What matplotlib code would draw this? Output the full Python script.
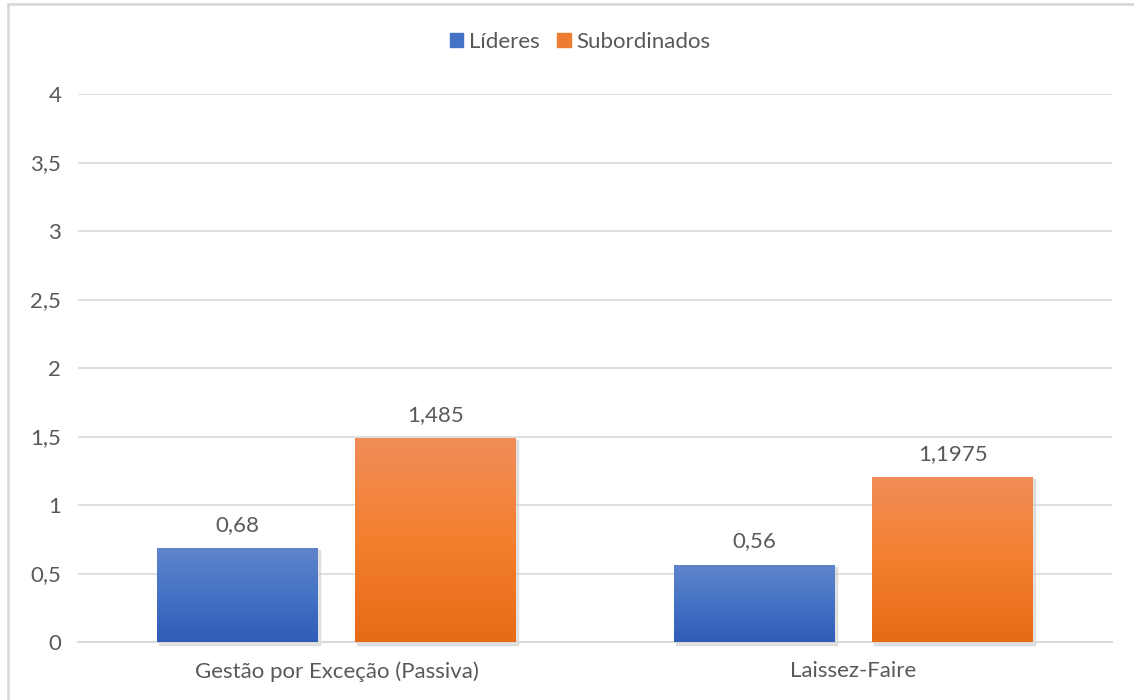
import matplotlib.pyplot as plt
import matplotlib.patches as mpatches
import numpy as np
from matplotlib.colors import LinearSegmentedColormap

# dados
categorias = ['Gestão por Exceção (Passiva)', 'Laissez-Faire']
lideres = [0.68, 0.56]
subordinados = [1.485, 1.1975]
series_nomes = ['Líderes', 'Subordinados']
yticks = [0, 0.5, 1, 1.5, 2, 2.5, 3, 3.5, 4]

plt.rcParams['font.family'] = ['Lato', 'DejaVu Sans']
cor_texto = '#595959'
fs = 16

fig = plt.figure(figsize=(11.34, 7.0), dpi=100)
ax = fig.add_axes([78 / 1134, 1 - 642 / 700, 1034 / 1134, 548 / 700])

x = np.arange(len(categorias))
larg = 0.311
desl = 0.192

# cores do gradiente (base, meio, topo)
grad_azul = LinearSegmentedColormap.from_list('az', ['#2f5db8', '#4472c4', '#5f84cc'])
grad_laranja = LinearSegmentedColormap.from_list('la', ['#e66b17', '#f47f2e', '#f18d58'])

b1 = ax.bar(x - desl, lideres, larg, color='none', zorder=3)
b2 = ax.bar(x + desl, subordinados, larg, color='none', zorder=3)

grad = np.linspace(0, 1, 256).reshape(-1, 1)
for barras, cmap in [(b1, grad_azul), (b2, grad_laranja)]:
    for b in barras:
        x0, w, h = b.get_x(), b.get_width(), b.get_height()
        # sombra leve
        ax.add_patch(mpatches.Rectangle((x0 + 0.004, -0.02), w, h + 0.01, color='#c8c8c8',
                                        alpha=0.5, zorder=2, clip_on=False))
        ax.imshow(grad, cmap=cmap, origin='lower', aspect='auto',
                  extent=[x0, x0 + w, 0, h], zorder=3)

for xs, vals in [(x - desl, lideres), (x + desl, subordinados)]:
    for xi, v in zip(xs, vals):
        ax.text(xi, v + 0.1, ('%g' % v).replace('.', ','), ha='center', va='bottom',
                fontsize=fs, color=cor_texto)

ax.set_xlim(-0.5, 1.5)
ax.set_ylim(0, 4)
ax.set_yticks(yticks)
ax.set_yticklabels([('%g' % t).replace('.', ',') for t in yticks])
ax.set_xticks(x)
ax.set_xticklabels(categorias)
ax.tick_params(axis='both', length=0, labelsize=fs, colors=cor_texto)
ax.tick_params(axis='x', pad=14)
ax.tick_params(axis='y', pad=12)
ax.grid(axis='y', color='#d9d9d9', linewidth=1.2, zorder=0)
ax.set_axisbelow(True)
for s in ['top', 'right', 'left']:
    ax.spines[s].set_visible(False)
ax.spines['bottom'].set_color('#d9d9d9')
ax.spines['bottom'].set_linewidth(1.5)

handles = [mpatches.Patch(color='#4472c4'), mpatches.Patch(color='#ed7d31')]
fig.legend(handles, series_nomes, loc='center', bbox_to_anchor=(580 / 1134, 1 - 42 / 700), ncol=2,
           frameon=False, fontsize=fs, labelcolor=cor_texto, handlelength=0.6,
           handleheight=0.6, handletextpad=0.25, columnspacing=0.8)

# moldura do gráfico
fig.patches.append(mpatches.Rectangle((8 / 1134, -0.05), 1.2, 1 - 4 / 700 + 0.05,
                                      transform=fig.transFigure, fill=False,
                                      edgecolor='#d9d9d9', linewidth=2))

fig.savefig('out.png', dpi=100)
